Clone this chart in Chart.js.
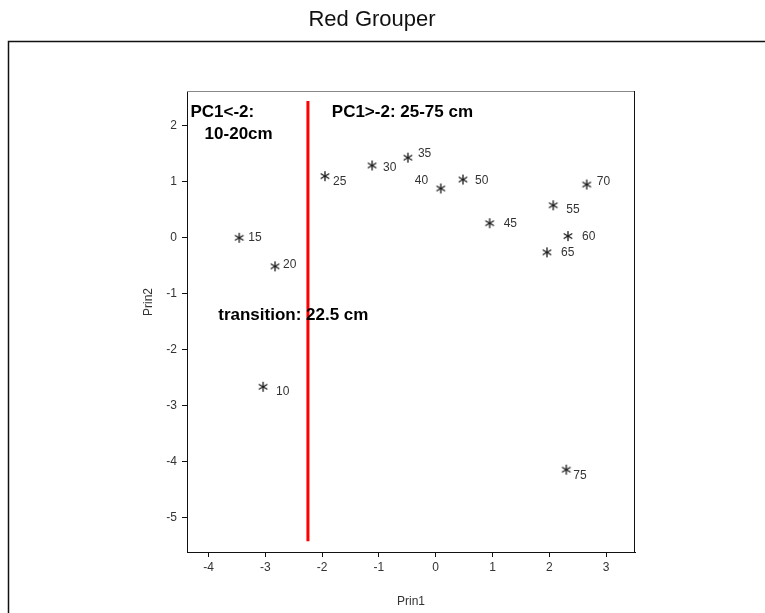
<!DOCTYPE html>
<html>
<head>
<meta charset="utf-8">
<script src="https://cdn.jsdelivr.net/npm/chart.js@4.4.1/dist/chart.umd.min.js"></script>
<style>
  body { margin: 0; background: #fff; }
  #wrap { width: 765px; height: 613px; }
</style>
</head>
<body>
<div id="wrap"><canvas id="pcaChart" width="765" height="613"></canvas></div>
<script>
// Datos: profundidad (cm) y componentes principales
const depths = [10, 15, 20, 25, 30, 35, 40, 45, 50, 55, 60, 65, 70, 75];
const prin1 = [-3.04, -3.46, -2.83, -1.95, -1.12, -0.49, 0.09, 0.95, 0.48, 2.07, 2.33, 1.96, 2.66, 2.30];
const prin2 = [-2.66, 0.00, -0.51, 1.10, 1.29, 1.43, 0.88, 0.26, 1.04, 0.58, 0.03, -0.26, 0.95, -4.14];

// Linea de transicion (22.5 cm)
const transitionX = -2.25;
const transitionY = [2.44, -5.42];

const xTicks = [-4, -3, -2, -1, 0, 1, 2, 3];
const yTicks = [-5, -4, -3, -2, -1, 0, 1, 2];

// desplazamiento de cada etiqueta respecto al asterisco (px)
const labelOffsets = [[13, 5], [9, 0], [8, -2], [8, 6], [11, 2], [10, -4], [-26, -8],
                      [14, 0], [12, 1], [13, 4], [14, 1], [14, 0], [10, -3], [7, 6]];

const FONT = '"Liberation Sans", Arial, sans-serif';

// asterisco de 6 brazos como pointStyle
function makeAsterisk() {
    const c = document.createElement('canvas');
    c.width = 12; c.height = 12;
    const g = c.getContext('2d');
    g.strokeStyle = '#1a1a1a';
    g.lineWidth = 1.3;
    const r = 5;
    [90, 30, 150].forEach(a => {
        const rad = a * Math.PI / 180;
        g.beginPath();
        g.moveTo(6 - r * Math.cos(rad), 6 - r * Math.sin(rad));
        g.lineTo(6 + r * Math.cos(rad), 6 + r * Math.sin(rad));
        g.stroke();
    });
    return c;
}

// Textos, marco y etiquetas
const decorPlugin = {
    id: 'decor',
    afterDraw(chart) {
        const ctx = chart.ctx;
        const xs = chart.scales.x, ys = chart.scales.y;
        const area = chart.chartArea;
        ctx.save();

        // marco exterior
        ctx.strokeStyle = '#111';
        ctx.lineWidth = 1.5;
        ctx.beginPath();
        ctx.moveTo(8.5, 613);
        ctx.lineTo(8.5, 41.5);
        ctx.lineTo(765, 41.5);
        ctx.stroke();

        // bordes superior y derecho del area
        ctx.lineWidth = 1;
        ctx.strokeStyle = '#888';
        ctx.beginPath();
        ctx.moveTo(area.left, area.top + 0.5);
        ctx.lineTo(area.right, area.top + 0.5);
        ctx.stroke();
        ctx.strokeStyle = '#111';
        ctx.beginPath();
        ctx.moveTo(area.right - 0.5, area.top);
        ctx.lineTo(area.right - 0.5, area.bottom);
        ctx.stroke();

        // titulo
        ctx.fillStyle = '#111';
        ctx.font = '22px ' + FONT;
        ctx.textAlign = 'center';
        ctx.textBaseline = 'alphabetic';
        ctx.fillText('Red Grouper', 372, 26);

        // titulo eje Y
        ctx.font = '12px ' + FONT;
        ctx.fillStyle = '#333';
        ctx.save();
        ctx.translate(149, 302);
        ctx.rotate(-Math.PI / 2);
        ctx.textBaseline = 'middle';
        ctx.fillText('Prin2', 0, 0);
        ctx.restore();

        // etiquetas de profundidad
        ctx.font = '12px ' + FONT;
        ctx.fillStyle = '#333';
        ctx.textAlign = 'left';
        ctx.textBaseline = 'middle';
        depths.forEach((d, i) => {
            const px = xs.getPixelForValue(prin1[i]);
            const py = ys.getPixelForValue(prin2[i]);
            ctx.fillText(String(d), px + labelOffsets[i][0], py + labelOffsets[i][1]);
        });

        // anotaciones en negrita
        ctx.font = 'bold 17px ' + FONT;
        ctx.fillStyle = '#000';
        ctx.textBaseline = 'alphabetic';
        const notes = [
            ['PC1<-2:', -4.32, 2.16],
            ['10-20cm', -4.07, 1.76],
            ['PC1>-2: 25-75 cm', -1.83, 2.16],
            ['transition: 22.5 cm', -3.83, -1.47]
        ];
        notes.forEach(n => {
            ctx.fillText(n[0], xs.getPixelForValue(n[1]), ys.getPixelForValue(n[2]));
        });
        ctx.restore();
    }
};

const star = makeAsterisk();

const config = {
    type: 'scatter',
    data: {
        datasets: [
            {
                label: 'Transition',
                type: 'line',
                data: transitionY.map(v => ({ x: transitionX, y: v })),
                borderColor: '#ff0000',
                borderWidth: 3,
                pointRadius: 0,
                fill: false,
                order: 2
            },
            {
                label: 'Depth',
                data: prin1.map((v, i) => ({ x: v, y: prin2[i] })),
                pointStyle: star,
                pointRadius: 5,
                order: 1
            }
        ]
    },
    options: {
        responsive: false,
        animation: false,
        layout: { padding: { top: 91, right: 130, left: 0, bottom: 0 } },
        plugins: {
            legend: { display: false },
            tooltip: { enabled: false },
            title: { display: false }
        },
        scales: {
            x: {
                type: 'linear',
                min: -4.38,
                max: 3.51,
                afterBuildTicks: s => { s.ticks = xTicks.map(v => ({ value: v })); },
                afterFit: s => { s.height = 61; },
                grid: { drawOnChartArea: false, drawTicks: true, tickLength: 5, color: '#111' },
                border: { display: true, color: '#111', width: 1 },
                ticks: { color: '#333', font: { family: FONT, size: 12 }, padding: 3, maxRotation: 0 },
                title: { display: true, text: 'Prin1', color: '#333', font: { family: FONT, size: 12 }, padding: { top: 10 } }
            },
            y: {
                type: 'linear',
                min: -5.61,
                max: 2.62,
                afterBuildTicks: s => { s.ticks = yTicks.map(v => ({ value: v })); },
                afterFit: s => { s.width = 187; },
                grid: { drawOnChartArea: false, drawTicks: true, tickLength: 5, color: '#111' },
                border: { display: true, color: '#111', width: 1 },
                ticks: { color: '#333', font: { family: FONT, size: 12 }, padding: 5 }
            }
        }
    },
    plugins: [decorPlugin]
};

new Chart(document.getElementById('pcaChart').getContext('2d'), config);
</script>
</body>
</html>
